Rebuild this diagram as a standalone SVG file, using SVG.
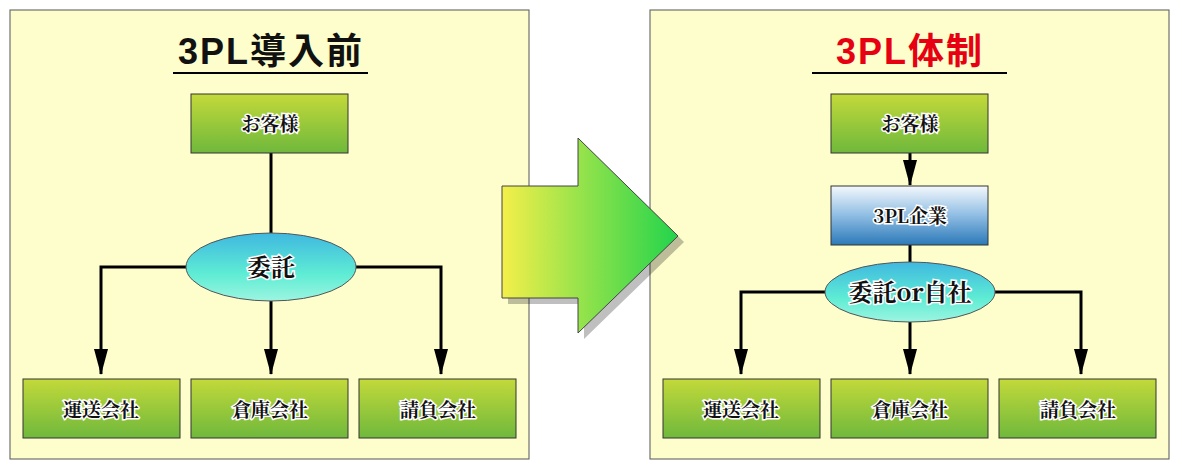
<svg xmlns="http://www.w3.org/2000/svg" width="1180" height="470" viewBox="0 0 1180 470">
<defs>
<linearGradient id="gb" x1="0" y1="0" x2="0" y2="1"><stop offset="0" stop-color="#c3d93a"/><stop offset="1" stop-color="#6fb83c"/></linearGradient>
<linearGradient id="bb" x1="0" y1="0" x2="0" y2="1"><stop offset="0" stop-color="#f4f8fc"/><stop offset="0.5" stop-color="#8fbde3"/><stop offset="1" stop-color="#2b79b8"/></linearGradient>
<linearGradient id="el" x1="0" y1="0" x2="0" y2="1"><stop offset="0" stop-color="#3fb8e0"/><stop offset="0.6" stop-color="#5eecd4"/><stop offset="1" stop-color="#9cf5e0"/></linearGradient>
<linearGradient id="ar" x1="0" y1="0" x2="1" y2="0"><stop offset="0" stop-color="#f4ef4a"/><stop offset="1" stop-color="#22d44c"/></linearGradient>
<marker id="ah" viewBox="0 0 26 14" refX="25" refY="7" markerWidth="26" markerHeight="14" markerUnits="userSpaceOnUse" orient="auto"><path d="M0,0 L26,7 L0,14 z" fill="#000"/></marker>
<style>
.panel{fill:#fefdcc;stroke:#555;stroke-width:1}
.box{fill:url(#gb);stroke:#333;stroke-width:1}
.lbl{font-family:"Noto Serif CJK JP","Noto Sans CJK JP",serif;font-weight:bold;font-size:19px;fill:#111;text-anchor:middle;stroke:#fff;stroke-width:3;paint-order:stroke}
.ell{fill:url(#el);stroke:#555;stroke-width:1}
.elbl{font-family:"Noto Serif CJK JP","Noto Sans CJK JP",serif;font-weight:bold;font-size:24px;fill:#111;text-anchor:middle;stroke:#fff;stroke-width:3;paint-order:stroke}
.ttl{font-family:"Liberation Sans","Noto Sans CJK JP",sans-serif;font-weight:bold;font-size:36px;letter-spacing:2px;text-anchor:middle}
.ln{fill:none;stroke:#000;stroke-width:3}
</style>
</defs>
<rect class="panel" x="10" y="10" width="519" height="449"/>
<rect class="panel" x="650" y="10" width="519" height="449"/>
<g id="arrow">
<path d="M508,192 H584 V144 L684,242 L584,339 V304 H508 Z" fill="#000" opacity="0.25"/>
<path d="M502,186 H578 V138 L678,236 L578,333 V298 H502 Z" fill="url(#ar)" stroke="#444"/>
</g>
<g id="title-left"><text class="ttl" x="271" y="64" fill="#111">3PL導入前</text><line x1="173" y1="73" x2="368" y2="73" stroke="#000" stroke-width="2"/></g>
<g id="title-right"><text class="ttl" x="910" y="64" fill="#e60012">3PL体制</text><line x1="812" y1="73" x2="1007" y2="73" stroke="#000" stroke-width="2"/></g>
<g id="connectors">
<path class="ln" d="M271,153 V233"/>
<path class="ln" d="M186,267 H101 V374" marker-end="url(#ah)"/>
<path class="ln" d="M356,267 H441 V374" marker-end="url(#ah)"/>
<path class="ln" d="M271,301 V374" marker-end="url(#ah)"/>
<path class="ln" d="M910,153 V185" marker-end="url(#ah)"/>
<path class="ln" d="M910,245 V262"/>
<path class="ln" d="M825,292 H741 V374" marker-end="url(#ah)"/>
<path class="ln" d="M995,292 H1081 V374" marker-end="url(#ah)"/>
<path class="ln" d="M910,322 V374" marker-end="url(#ah)"/>
</g>
<g id="n-customer-l"><rect class="box" x="191" y="94" width="157" height="59"/><text class="lbl" x="270" y="131">お客様</text></g>
<g id="n-itaku-l"><ellipse class="ell" cx="271" cy="267" rx="85" ry="34"/><text class="elbl" x="271" y="276">委託</text></g>
<g id="n-unso-l"><rect class="box" x="23" y="379" width="157" height="59"/><text class="lbl" x="101" y="417">運送会社</text></g>
<g id="n-soko-l"><rect class="box" x="191" y="379" width="157" height="59"/><text class="lbl" x="270" y="417">倉庫会社</text></g>
<g id="n-ukeoi-l"><rect class="box" x="359" y="379" width="157" height="59"/><text class="lbl" x="438" y="417">請負会社</text></g>
<g id="n-customer-r"><rect class="box" x="831" y="94" width="157" height="59"/><text class="lbl" x="910" y="131">お客様</text></g>
<g id="n-3pl"><rect x="831" y="186" width="157" height="59" fill="url(#bb)" stroke="#333"/><text class="lbl" x="910" y="223">3PL企業</text></g>
<g id="n-itaku-r"><ellipse class="ell" cx="910" cy="292" rx="85" ry="30"/><text class="elbl" x="910" y="301">委託or自社</text></g>
<g id="n-unso-r"><rect class="box" x="663" y="379" width="157" height="59"/><text class="lbl" x="741" y="417">運送会社</text></g>
<g id="n-soko-r"><rect class="box" x="831" y="379" width="157" height="59"/><text class="lbl" x="910" y="417">倉庫会社</text></g>
<g id="n-ukeoi-r"><rect class="box" x="999" y="379" width="157" height="59"/><text class="lbl" x="1078" y="417">請負会社</text></g>
</svg>
